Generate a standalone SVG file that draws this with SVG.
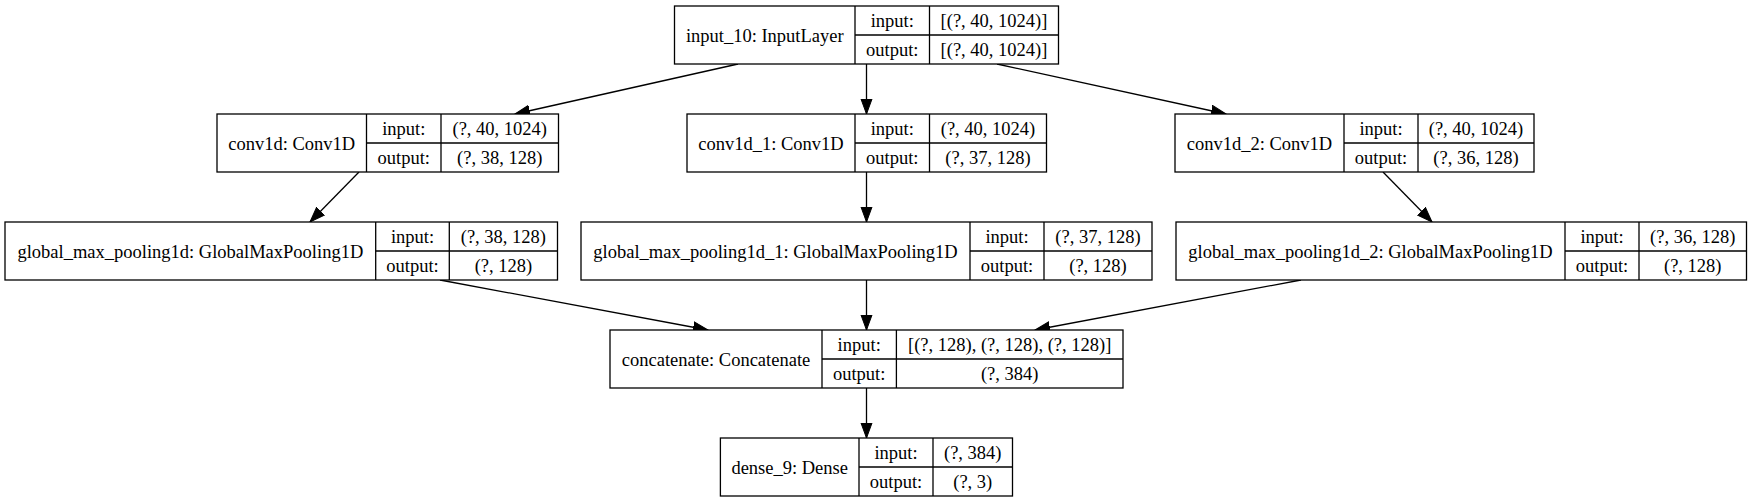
<svg xmlns="http://www.w3.org/2000/svg" width="1752" height="503" viewBox="0 0 1752 503">
<style>
.b{fill:#fff;stroke:#000;stroke-width:1.3}
.d{stroke:#000;stroke-width:1.3}
text{font-family:"Liberation Serif","Times New Roman",serif;font-size:18.5px;fill:#000;text-anchor:middle}
.e{stroke:#000;stroke-width:1.3;fill:none;marker-end:url(#ah)}
</style>
<defs>
<marker id="ah" markerUnits="userSpaceOnUse" markerWidth="16" markerHeight="14" refX="15" refY="6.5" orient="auto" viewBox="0 0 16 14">
<path d="M0,1 L15,6.5 L0,12 z" fill="#000" stroke="#000" stroke-width="1"/>
</marker>
</defs>
<rect width="1752" height="503" fill="#fff"/>
<g id="connectors">
<line class="e" x1="738" y1="64" x2="515" y2="114"/>
<line class="e" x1="866.5" y1="64" x2="866.5" y2="114"/>
<line class="e" x1="997" y1="64" x2="1226" y2="114"/>
<line class="e" x1="359" y1="172" x2="310" y2="222"/>
<line class="e" x1="866.5" y1="172" x2="866.5" y2="222"/>
<line class="e" x1="1383" y1="172" x2="1432" y2="222"/>
<line class="e" x1="440" y1="280" x2="708" y2="330"/>
<line class="e" x1="866.5" y1="280" x2="866.5" y2="330"/>
<line class="e" x1="1301" y1="280" x2="1035" y2="330"/>
<line class="e" x1="866.5" y1="388" x2="866.5" y2="438"/>
</g>
<g id="input_10">
<rect class="b" x="674.5" y="6" width="384" height="58"/>
<line class="d" x1="855" y1="6" x2="855" y2="64"/><line class="d" x1="929.5" y1="6" x2="929.5" y2="64"/><line class="d" x1="855" y1="35" x2="1058.5" y2="35"/>
<text x="764.75" y="41.5">input_10: InputLayer</text>
<text x="892.25" y="27">input:</text><text x="892.25" y="56">output:</text>
<text x="994" y="27">[(?, 40, 1024)]</text><text x="994" y="56">[(?, 40, 1024)]</text>
</g>
<g id="conv1d">
<rect class="b" x="217" y="114" width="341.5" height="58"/>
<line class="d" x1="366.5" y1="114" x2="366.5" y2="172"/><line class="d" x1="441" y1="114" x2="441" y2="172"/><line class="d" x1="366.5" y1="143" x2="558.5" y2="143"/>
<text x="291.75" y="149.5">conv1d: Conv1D</text>
<text x="403.75" y="135">input:</text><text x="403.75" y="164">output:</text>
<text x="499.75" y="135">(?, 40, 1024)</text><text x="499.75" y="164">(?, 38, 128)</text>
</g>
<g id="conv1d_1">
<rect class="b" x="687" y="114" width="359.5" height="58"/>
<line class="d" x1="855" y1="114" x2="855" y2="172"/><line class="d" x1="929.5" y1="114" x2="929.5" y2="172"/><line class="d" x1="855" y1="143" x2="1046.5" y2="143"/>
<text x="771" y="149.5">conv1d_1: Conv1D</text>
<text x="892.25" y="135">input:</text><text x="892.25" y="164">output:</text>
<text x="988" y="135">(?, 40, 1024)</text><text x="988" y="164">(?, 37, 128)</text>
</g>
<g id="conv1d_2">
<rect class="b" x="1175" y="114" width="359" height="58"/>
<line class="d" x1="1344" y1="114" x2="1344" y2="172"/><line class="d" x1="1418" y1="114" x2="1418" y2="172"/><line class="d" x1="1344" y1="143" x2="1534" y2="143"/>
<text x="1259.5" y="149.5">conv1d_2: Conv1D</text>
<text x="1381" y="135">input:</text><text x="1381" y="164">output:</text>
<text x="1476" y="135">(?, 40, 1024)</text><text x="1476" y="164">(?, 36, 128)</text>
</g>
<g id="global_max_pooling1d">
<rect class="b" x="5" y="222" width="552.5" height="58"/>
<line class="d" x1="375.7" y1="222" x2="375.7" y2="280"/><line class="d" x1="449.3" y1="222" x2="449.3" y2="280"/><line class="d" x1="375.7" y1="251" x2="557.5" y2="251"/>
<text x="190.35" y="257.5">global_max_pooling1d: GlobalMaxPooling1D</text>
<text x="412.5" y="243">input:</text><text x="412.5" y="272">output:</text>
<text x="503.4" y="243">(?, 38, 128)</text><text x="503.4" y="272">(?, 128)</text>
</g>
<g id="global_max_pooling1d_1">
<rect class="b" x="581" y="222" width="571" height="58"/>
<line class="d" x1="970" y1="222" x2="970" y2="280"/><line class="d" x1="1044" y1="222" x2="1044" y2="280"/><line class="d" x1="970" y1="251" x2="1152" y2="251"/>
<text x="775.5" y="257.5">global_max_pooling1d_1: GlobalMaxPooling1D</text>
<text x="1007" y="243">input:</text><text x="1007" y="272">output:</text>
<text x="1098" y="243">(?, 37, 128)</text><text x="1098" y="272">(?, 128)</text>
</g>
<g id="global_max_pooling1d_2">
<rect class="b" x="1176" y="222" width="570.5" height="58"/>
<line class="d" x1="1565" y1="222" x2="1565" y2="280"/><line class="d" x1="1639" y1="222" x2="1639" y2="280"/><line class="d" x1="1565" y1="251" x2="1746.5" y2="251"/>
<text x="1370.5" y="257.5">global_max_pooling1d_2: GlobalMaxPooling1D</text>
<text x="1602" y="243">input:</text><text x="1602" y="272">output:</text>
<text x="1692.75" y="243">(?, 36, 128)</text><text x="1692.75" y="272">(?, 128)</text>
</g>
<g id="concatenate">
<rect class="b" x="610" y="330" width="513" height="58"/>
<line class="d" x1="822" y1="330" x2="822" y2="388"/><line class="d" x1="896.4" y1="330" x2="896.4" y2="388"/><line class="d" x1="822" y1="359" x2="1123" y2="359"/>
<text x="716" y="365.5">concatenate: Concatenate</text>
<text x="859.2" y="351">input:</text><text x="859.2" y="380">output:</text>
<text x="1009.7" y="351">[(?, 128), (?, 128), (?, 128)]</text><text x="1009.7" y="380">(?, 384)</text>
</g>
<g id="dense_9">
<rect class="b" x="720.4" y="438" width="292.1" height="58"/>
<line class="d" x1="859" y1="438" x2="859" y2="496"/><line class="d" x1="933" y1="438" x2="933" y2="496"/><line class="d" x1="859" y1="467" x2="1012.5" y2="467"/>
<text x="789.7" y="473.5">dense_9: Dense</text>
<text x="896" y="459">input:</text><text x="896" y="488">output:</text>
<text x="972.75" y="459">(?, 384)</text><text x="972.75" y="488">(?, 3)</text>
</g>
</svg>
